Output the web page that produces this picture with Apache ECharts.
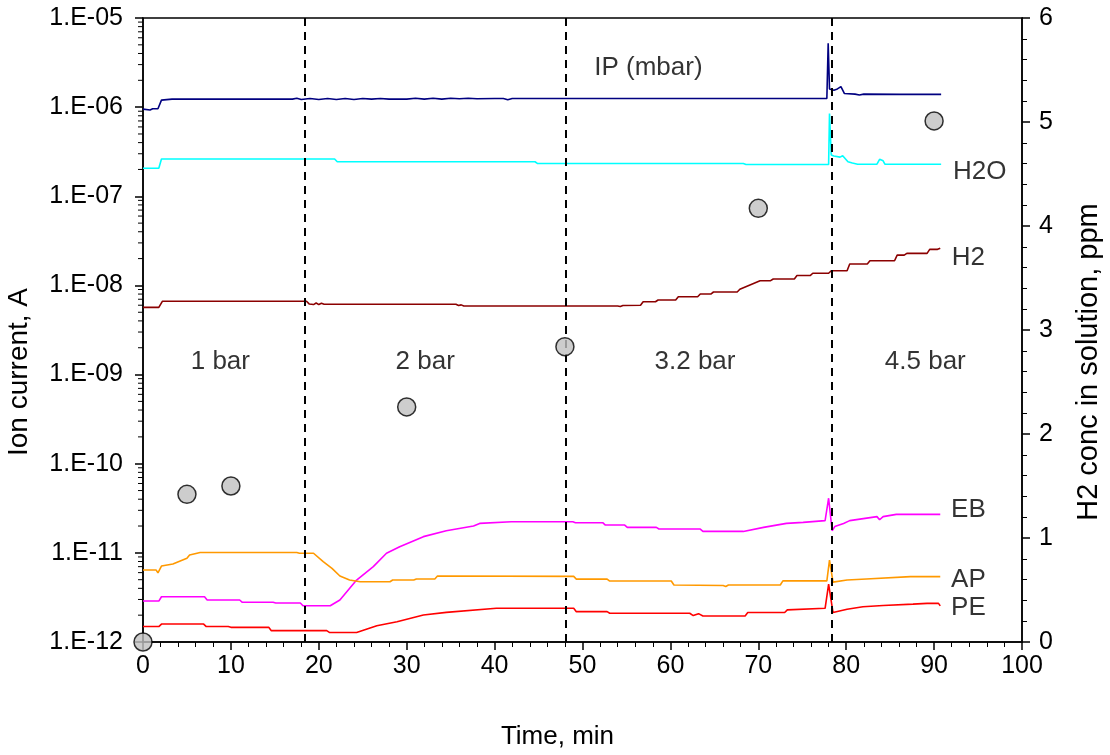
<!DOCTYPE html>
<html>
<head>
<meta charset="utf-8">
<script src="https://cdn.jsdelivr.net/npm/echarts@6/dist/echarts.min.js"></script>
<style>
  html, body { margin: 0; padding: 0; background: #fff; }
  #chart { width: 1110px; height: 755px; }
</style>
</head>
<body>
<div id="chart"></div>
<script>
// ion current traces, [time min, current A]
const ipData = [
  [0, 9.5e-7], [0.8, 9.3e-7], [1.1, 9.6e-7], [1.7, 9.6e-7], [2.1, 1.2e-6], [3.3, 1.23e-6],
  [17, 1.23e-6], [17.5, 1.26e-6], [18, 1.22e-6], [19, 1.25e-6], [20, 1.22e-6], [21, 1.25e-6],
  [22, 1.22e-6], [23, 1.25e-6], [24, 1.22e-6], [25, 1.25e-6], [26, 1.23e-6], [27, 1.25e-6],
  [28, 1.23e-6], [30, 1.23e-6], [31, 1.26e-6], [32, 1.23e-6], [33, 1.26e-6], [34, 1.23e-6],
  [35, 1.26e-6], [36, 1.24e-6], [37, 1.26e-6], [38, 1.24e-6], [40, 1.25e-6], [41, 1.25e-6],
  [41.5, 1.21e-6], [42, 1.25e-6], [77.8, 1.25e-6], [77.95, 5.2e-6], [78.1, 1.6e-6],
  [78.6, 1.55e-6], [79.0, 1.6e-6], [79.4, 1.7e-6], [79.8, 1.42e-6], [81, 1.4e-6],
  [81.5, 1.37e-6], [82, 1.4e-6], [86.1, 1.39e-6], [86.3, 1.33e-6], [86.6, 1.39e-6],
  [87.7, 1.39e-6], [87.9, 1.33e-6], [88.2, 1.39e-6], [90.8, 1.39e-6]
];
const h2oData = [
  [0, 2.06e-7], [1.8, 2.06e-7], [2.1, 2.62e-7], [21.8, 2.62e-7], [22.1, 2.44e-7],
  [44.6, 2.44e-7], [44.9, 2.33e-7], [68.3, 2.33e-7], [68.6, 2.27e-7], [78.0, 2.27e-7],
  [78.1, 8.5e-7], [78.3, 2.9e-7], [78.6, 2.83e-7], [79.3, 2.75e-7], [79.6, 2.85e-7],
  [80.2, 2.44e-7], [80.7, 2.36e-7], [81.3, 2.29e-7], [83.5, 2.29e-7], [83.8, 2.6e-7],
  [84.2, 2.5e-7], [84.4, 2.29e-7], [90.8, 2.29e-7]
];
const h2Data = [
  [0, 5.68e-9], [1.8, 5.68e-9], [2.2, 6.64e-9], [18.6, 6.64e-9], [18.9, 6.2e-9], [19.4, 6.1e-9],
  [19.7, 6.35e-9], [20.0, 6.1e-9], [20.3, 6.3e-9], [20.6, 6.15e-9], [35.6, 6.15e-9],
  [35.9, 5.95e-9], [36.2, 6.05e-9], [36.5, 5.87e-9], [54.0, 5.87e-9], [54.3, 5.8e-9],
  [54.6, 5.95e-9], [56.6, 6.0e-9], [56.9, 6.56e-9], [58.3, 6.56e-9], [58.6, 6.86e-9],
  [60.6, 6.86e-9], [60.9, 7.46e-9], [63.1, 7.46e-9], [63.4, 8.01e-9], [64.6, 8.01e-9],
  [64.9, 8.44e-9], [67.6, 8.44e-9], [67.9, 9.05e-9], [70.2, 1.13e-8], [71.4, 1.13e-8],
  [71.7, 1.18e-8], [74.1, 1.18e-8], [74.4, 1.29e-8], [75.9, 1.29e-8], [76.2, 1.37e-8],
  [78.0, 1.37e-8], [78.3, 1.46e-8], [80.1, 1.46e-8], [80.4, 1.74e-8], [82.4, 1.74e-8],
  [82.7, 1.89e-8], [85.5, 1.89e-8], [85.8, 2.19e-8], [86.6, 2.19e-8], [86.9, 2.29e-8],
  [89.2, 2.29e-8], [89.5, 2.54e-8], [90.4, 2.54e-8], [90.7, 2.61e-8]
];
const ebData = [
  [0, 2.88e-12], [1.8, 2.88e-12], [2.1, 3.22e-12], [7.0, 3.22e-12], [7.3, 2.96e-12],
  [11.0, 2.96e-12], [11.3, 2.79e-12], [14.8, 2.79e-12], [15.1, 2.74e-12], [17.9, 2.74e-12],
  [18.2, 2.55e-12], [21.3, 2.55e-12], [22.4, 2.96e-12], [24.3, 4.95e-12], [26.2, 7.0e-12],
  [27.7, 9.9e-12], [29.2, 1.17e-11], [31.9, 1.52e-11], [34.5, 1.77e-11], [37.6, 2.0e-11],
  [38.3, 2.14e-11], [41.9, 2.23e-11], [48.9, 2.23e-11], [49.2, 2.18e-11], [52.3, 2.18e-11],
  [52.6, 2.05e-11], [54.8, 2.05e-11], [55.1, 1.93e-11], [58.4, 1.93e-11], [58.7, 1.85e-11],
  [63.4, 1.85e-11], [63.7, 1.74e-11], [68.3, 1.74e-11], [70.6, 1.93e-11], [73.2, 2.14e-11],
  [75.1, 2.2e-11], [77.6, 2.3e-11], [78.0, 4.1e-11], [78.4, 1.77e-11], [78.7, 1.97e-11],
  [79.7, 2.14e-11], [80.4, 2.3e-11], [83.5, 2.55e-11], [83.8, 2.35e-11], [84.2, 2.55e-11],
  [85.7, 2.7e-11], [90.7, 2.7e-11]
];
const apData = [
  [0, 6.41e-12], [1.5, 6.41e-12], [1.7, 5.98e-12], [2.1, 7.11e-12], [3.4, 7.5e-12],
  [5.0, 8.69e-12], [5.3, 9.46e-12], [6.5, 1.01e-11], [17.5, 1.01e-11], [17.8, 9.9e-12],
  [19.4, 9.9e-12], [20.5, 7.96e-12], [21.5, 6.71e-12], [22.4, 5.5e-12], [23.5, 4.96e-12],
  [24.7, 4.74e-12], [28.1, 4.74e-12], [28.4, 4.96e-12], [30.8, 4.96e-12], [31.1, 5.1e-12],
  [33.2, 5.1e-12], [33.5, 5.5e-12], [49.0, 5.45e-12], [49.3, 5.08e-12], [52.8, 5.08e-12],
  [53.1, 4.83e-12], [60.1, 4.83e-12], [60.4, 4.36e-12], [66.0, 4.3e-12], [66.3, 4.2e-12],
  [66.6, 4.36e-12], [72.5, 4.36e-12], [72.8, 4.85e-12], [77.8, 4.85e-12], [78.1, 8.3e-12],
  [78.5, 4.7e-12], [80.1, 4.96e-12], [82.3, 5.1e-12], [87.3, 5.41e-12], [90.7, 5.41e-12]
];
const peData = [
  [0, 1.49e-12], [1.8, 1.49e-12], [2.1, 1.59e-12], [6.9, 1.59e-12], [7.2, 1.49e-12],
  [9.7, 1.49e-12], [10.0, 1.46e-12], [14.3, 1.46e-12], [14.6, 1.34e-12], [20.9, 1.34e-12],
  [21.2, 1.28e-12], [24.3, 1.28e-12], [26.6, 1.52e-12], [28.9, 1.69e-12], [31.9, 2.01e-12],
  [34.5, 2.15e-12], [40.2, 2.39e-12], [49.0, 2.39e-12], [49.3, 2.19e-12], [52.8, 2.19e-12],
  [53.1, 2.1e-12], [62.2, 2.1e-12], [62.6, 1.98e-12], [63.2, 2.08e-12], [63.7, 1.96e-12],
  [68.5, 1.96e-12], [68.8, 2.14e-12], [73.0, 2.14e-12], [73.3, 2.29e-12], [77.6, 2.39e-12],
  [78.0, 4.47e-12], [78.5, 2.14e-12], [80.1, 2.33e-12], [81.9, 2.49e-12], [84.2, 2.57e-12],
  [87.6, 2.66e-12], [89.2, 2.71e-12], [90.5, 2.71e-12], [90.7, 2.54e-12]
];

// H2 concentration in solution (right axis)
const concTime = [0, 5, 10, 30, 48, 70, 90];
const concPpm = [0, 1.42, 1.5, 2.26, 2.84, 4.17, 5.01];

// pressure switch times (dashed lines)
const switchTimes = [18.4, 48.1, 78.4];

// text annotations anchored in data space (time, current)
const noteText = ['IP (mbar)', 'H2O', 'H2', 'EB', 'AP', 'PE', '1 bar', '2 bar', '3.2 bar', '4.5 bar'];
const noteTime = [57.5, 95.2, 93.9, 93.9, 93.9, 93.9, 8.8, 32.1, 62.8, 89.0];
const noteCurrent = [2.75e-6, 1.87e-7, 2.03e-8, 3.03e-11, 4.96e-12, 2.4e-12, 1.38e-9, 1.38e-9, 1.38e-9, 1.38e-9];

// log axis minor ticks
const minorExps = [-12, -11, -10, -9, -8, -7, -6];
const minorMults = [2, 3, 4, 5, 6, 7, 8, 9];

const FONT = 'Liberation Sans';
const chart = echarts.init(document.getElementById('chart'));

function logLabel(v) {
  const e = Math.round(Math.log10(v));
  return '1.E' + (e < 0 ? '-' : '+') + String(Math.abs(e)).padStart(2, '0');
}

function trace(name, data, color) {
  return {
    name: name,
    type: 'line',
    data: data,
    showSymbol: false,
    symbol: 'none',
    lineStyle: { color: color, width: 1.6 },
    z: 3
  };
}

const minorTickData = [];
minorExps.forEach(e => minorMults.forEach(m => minorTickData.push([0, m * Math.pow(10, e)])));

const option = {
  animation: false,
  grid: {
    left: 143, right: 88, top: 18, bottom: 113,
    outerBoundsMode: 'none', containLabel: false,
    show: true, borderColor: '#000', borderWidth: 1.5
  },
  xAxis: {
    type: 'value', min: 0, max: 100, interval: 10,
    name: 'Time, min', nameLocation: 'middle', nameGap: 82,
    nameTextStyle: { fontFamily: FONT, fontSize: 26, color: '#000', padding: [0, 50, 0, 0] },
    axisLine: { onZero: false, lineStyle: { color: '#000', width: 1.5 } },
    axisTick: { length: 8, lineStyle: { color: '#000', width: 1.5 } },
    minorTick: { show: true, splitNumber: 5, length: 5, lineStyle: { color: '#000', width: 1 } },
    splitLine: { show: false },
    axisLabel: { fontFamily: FONT, fontSize: 25, color: '#000', margin: 12 }
  },
  yAxis: [
    {
      type: 'log', logBase: 10, min: 1e-12, max: 1e-5,
      name: 'Ion current, A', nameLocation: 'middle', nameGap: 110,
      nameTextStyle: { fontFamily: FONT, fontSize: 28, color: '#000', padding: [0, 84, 0, 0] },
      axisLine: { lineStyle: { color: '#000', width: 1.5 } },
      axisTick: { length: 8, lineStyle: { color: '#000', width: 1.5 } },
      splitLine: { show: false },
      axisLabel: { fontFamily: FONT, fontSize: 25, color: '#000', margin: 20, formatter: logLabel }
    },
    {
      type: 'value', min: 0, max: 6, interval: 1, position: 'right',
      name: 'H2 conc in solution, ppm', nameLocation: 'middle', nameGap: 52, nameRotate: 90,
      nameTextStyle: { fontFamily: FONT, fontSize: 29, color: '#000', padding: [0, 64, 0, 0] },
      axisLine: { lineStyle: { color: '#000', width: 1.5 } },
      axisTick: { length: 8, lineStyle: { color: '#000', width: 1.5 } },
      minorTick: { show: true, splitNumber: 5, length: 5, lineStyle: { color: '#000', width: 1 } },
      splitLine: { show: false },
      axisLabel: { fontFamily: FONT, fontSize: 25, color: '#000', margin: 17 }
    }
  ],
  series: [
    trace('IP', ipData, '#000080'),
    trace('H2O', h2oData, '#00ffff'),
    trace('H2', h2Data, '#8b0000'),
    trace('EB', ebData, '#ff00ff'),
    trace('AP', apData, '#ff9900'),
    trace('PE', peData, '#ff0000'),
    {
      name: 'switches',
      type: 'line',
      data: [],
      markLine: {
        silent: true,
        symbol: 'none',
        label: { show: false },
        lineStyle: { color: '#000', width: 2, type: [8, 6] },
        data: switchTimes.map(t => ({ xAxis: t }))
      }
    },
    {
      name: 'H2 conc',
      type: 'scatter',
      yAxisIndex: 1,
      clip: false,
      symbol: 'circle',
      symbolSize: 18,
      data: concTime.map((t, i) => [t, concPpm[i]]),
      itemStyle: { color: '#c0c0c0', borderColor: '#000', borderWidth: 1.5 },
      z: 5
    },
    {
      name: 'notes',
      type: 'scatter',
      symbolSize: 0,
      clip: false,
      silent: true,
      data: noteText.map((n, i) => ({ name: n, value: [noteTime[i], noteCurrent[i]] })),
      label: {
        show: true, position: 'inside', formatter: '{b}',
        fontFamily: FONT, fontSize: 26, color: '#000'
      }
    },
    {
      name: 'logMinor',
      type: 'custom',
      clip: false,
      silent: true,
      data: minorTickData,
      renderItem: function (params, api) {
        const p = api.coord([api.value(0), api.value(1)]);
        return {
          type: 'line',
          shape: { x1: p[0] - 5, y1: p[1], x2: p[0], y2: p[1] },
          style: { stroke: '#000', lineWidth: 1 }
        };
      }
    }
  ]
};

chart.setOption(option);
</script>
</body>
</html>
